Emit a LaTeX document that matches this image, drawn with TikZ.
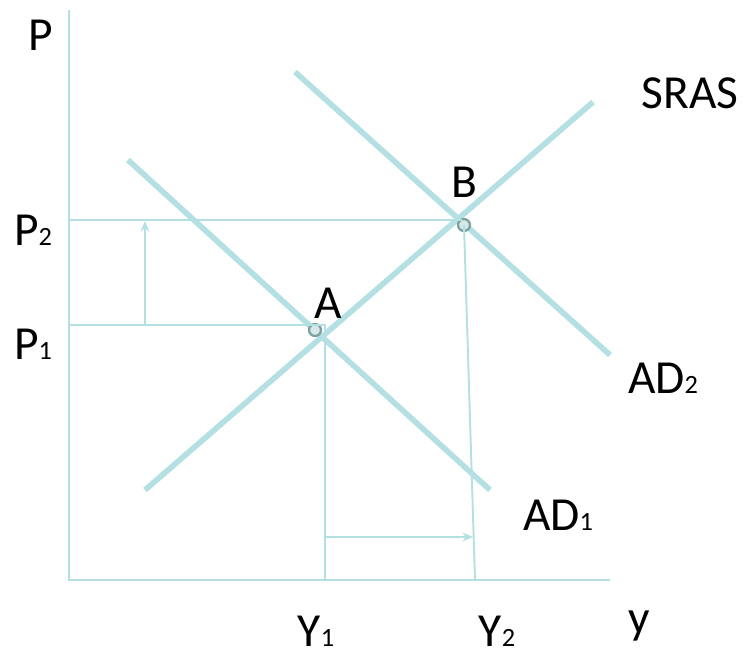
\documentclass[tikz,border=0pt]{standalone}
\usepackage{fontspec}
\setmainfont{Carlito}
\usetikzlibrary{positioning, arrows.meta}

\definecolor{curvecol}{RGB}{180,223,227}
\definecolor{dotcol}{RGB}{125,160,160}
\definecolor{dotfill}{RGB}{215,232,232}
\newcommand{\lowsub}[1]{{\fontsize{15}{18}\selectfont #1}}

\begin{document}
\begin{tikzpicture}[
  x=0.02cm, y=-0.02cm,
  >={Stealth[length=6pt, width=5pt]},
  axis/.style={draw=curvecol, line width=1.2pt},
  curve/.style={draw=curvecol, line width=3.2pt},
  guide/.style={draw=curvecol, line width=1.1pt},
  shiftarr/.style={guide, ->},
  lbl/.style={anchor=base, inner sep=0pt, font=\fontsize{27}{32}\selectfont},
  eqdot/.style={circle, draw=dotcol, fill=dotfill, line width=1.3pt,
    inner sep=0pt, minimum size=6.8pt},
]
\useasboundingbox (0,0) rectangle (745,653);

% --- axes ---
\coordinate (O) at (69,580);
\coordinate (ytop) at (69,10);
\coordinate (xend) at (610,580);
\draw[axis] (ytop) -- (O) -- (xend);

% --- curves ---
\coordinate (sras0) at (145,490);
\coordinate (sras1) at (593,102);
\coordinate (adone0) at (128,160);
\coordinate (adone1) at (490,490);
\coordinate (adtwo0) at (295,72);
\coordinate (adtwo1) at (610,355);
\draw[curve] (sras0) -- (sras1);
\draw[curve] (adone0) -- (adone1);
\draw[curve] (adtwo0) -- (adtwo1);

% --- equilibrium points ---
\node[eqdot] (ptA) at (315,330) {};
\node[eqdot] (ptB) at (464,225) {};

% --- guide lines ---
\coordinate (ptwo) at (69,220);
\coordinate (ptwoend) at (462,220);
\coordinate (pone) at (69,325);
\coordinate (poneend) at (325,325);
\coordinate (yone) at (325,580);
\coordinate (ytwo) at (475,580);
\draw[guide] (ptwo) -- (ptwoend);
\draw[guide] (pone) -- (poneend) -- (yone);
\draw[guide] (ptB.center) -- (ytwo);

% --- shift arrows ---
\coordinate (upfrom) at (145,325);
\coordinate (upto) at (145,221);
\coordinate (rtfrom) at (325,537);
\coordinate (rtto) at (473,537);
\draw[shiftarr] (upfrom) -- (upto);
\draw[shiftarr] (rtfrom) -- (rtto);

% --- labels ---
\node[lbl] (labP) at (41,50) {P};
\node[lbl] (labPtwo) at (33,245) {P\lowsub{2}};
\node[lbl] (labPone) at (33,359) {P\lowsub{1}};
\node[lbl] (labA) at (328,318) {A};
\node[lbl] (labB) at (464,197) {B};
\node[lbl] (labSRAS) at (690,108) {SRAS};
\node[lbl] (labADtwo) at (663,393) {AD\lowsub{2}};
\node[lbl] (labADone) at (558,530) {AD\lowsub{1}};
\node[lbl] (labYone) at (316,646) {Y\lowsub{1}};
\node[lbl] (labYtwo) at (497,646) {Y\lowsub{2}};
\node[lbl] (laby) at (639,633) {y};

\end{tikzpicture}
\end{document}
